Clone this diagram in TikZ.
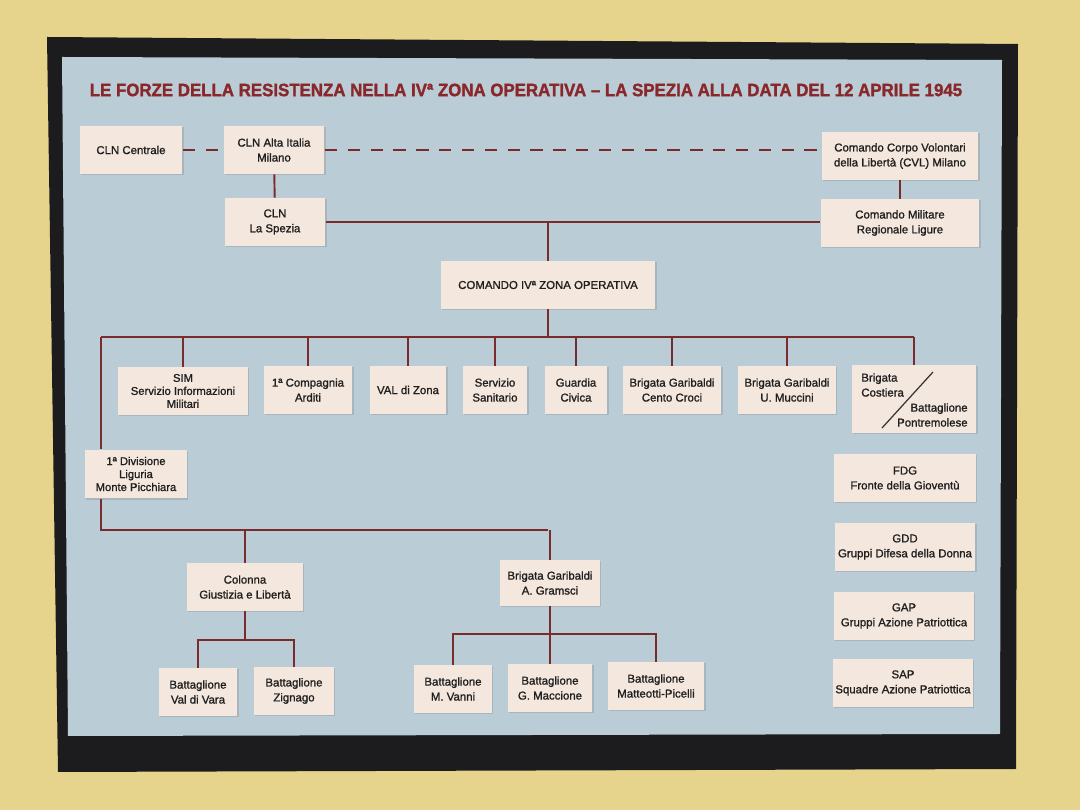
\documentclass[tikz,border=0pt]{standalone}
\usepackage{fontspec}
\setmainfont{Liberation Sans}
\newfontfamily\schedafont{Liberation Sans}[FakeBold=1.2]
\newfontfamily\titolofont{Liberation Sans}[BoldFeatures={FakeBold=1.6}]
\usetikzlibrary{shadows}

\definecolor{muro}{HTML}{E6D38C}
\definecolor{cornice}{HTML}{1C1C1E}
\definecolor{pannello}{HTML}{BACCD6}
\definecolor{scheda}{HTML}{F4E7DD}
\definecolor{rosso}{HTML}{7C2B2D}
\definecolor{titolorosso}{HTML}{8A272A}

\begin{document}
\begin{tikzpicture}[x=0.02cm, y=-0.02cm,
    every node/.style={align=center, text=black!88, font=\schedafont\fontsize{6.5}{8.5}\selectfont},
    box/.style={fill=scheda, inner sep=0pt, minimum height=0.96cm,
        drop shadow={opacity=0.3, shadow xshift=0.8pt, shadow yshift=-0.8pt}},
    fitto/.style={font=\schedafont\fontsize{6.4}{7.4}\selectfont},
    link/.style={draw=rosso, line width=1.1pt},
    dashlink/.style={link, dash pattern=on 7pt off 6pt}]
    \useasboundingbox (0,0) rectangle (1080,810);
    \fill[muro] (0,0) rectangle (1080,810);
    \fill[cornice] (47,37) -- (1018,44) -- (1016,769) -- (58,772) -- cycle;
    \fill[pannello] (62,57) -- (1002,60) -- (1000,734) -- (68,736) -- cycle;

    \node (titolo) at (526,90) {\color{titolorosso}\resizebox{17.45cm}{0.25cm}{\titolofont\bfseries
        LE FORZE DELLA RESISTENZA NELLA IVª ZONA OPERATIVA – LA SPEZIA ALLA DATA DEL 12 APRILE 1945}};

    % vertici
    \node[box, minimum width=2.06cm] (centrale) at (131,150) {CLN Centrale};
    \node[box, minimum width=2.02cm] (alta) at (274,150) {CLN Alta Italia\\Milano};
    \node[box, minimum width=3.14cm] (cvl) at (900,156) {Comando Corpo Volontari\\della Libertà (CVL) Milano};
    \node[box, minimum width=2.02cm] (spezia) at (275,222) {CLN\\La Spezia};
    \node[box, minimum width=3.18cm] (militare) at (900,223) {Comando Militare\\Regionale Ligure};
    \node[box, minimum width=4.3cm] (zona) at (548,285) {COMANDO IVª ZONA OPERATIVA};

    % reparti
    \node[box, fitto, minimum width=2.6cm] (sim) at (183,391) {SIM\\Servizio Informazioni\\Militari};
    \node[box, minimum width=1.78cm] (arditi) at (308,390) {1ª Compagnia\\Arditi};
    \node[box, minimum width=1.54cm] (val) at (408,390) {VAL di Zona};
    \node[box, minimum width=1.3cm] (sanitario) at (495,390) {Servizio\\Sanitario};
    \node[box, minimum width=1.26cm] (civica) at (576,390) {Guardia\\Civica};
    \node[box, minimum width=1.98cm] (centocroci) at (672,390) {Brigata Garibaldi\\Cento Croci};
    \node[box, minimum width=1.96cm] (muccini) at (787,390) {Brigata Garibaldi\\U. Muccini};
    \node[box, minimum width=2.5cm, minimum height=1.36cm] (costiera) at (914,399) {};
    \node[align=left, anchor=west, inner sep=0pt] (costA) at (861,385) {Brigata\\Costiera};
    \node[align=right, anchor=east, inner sep=0pt] (costB) at (968,415) {Battaglione\\Pontremolese};
    \draw[black!80, line width=0.7pt] (882,428) -- (933,372);

    \node[box, fitto, minimum width=2.04cm, minimum height=0.98cm] (divisione) at (136,474) {1ª Divisione\\Liguria\\Monte Picchiara};

    % organizzazioni
    \node[box, minimum width=2.84cm] (fdg) at (905,478) {FDG\\Fronte della Gioventù};
    \node[box, minimum width=2.82cm] (gdd) at (905,547) {GDD\\Gruppi Difesa della Donna};
    \node[box, minimum width=2.8cm] (gap) at (904,616) {GAP\\Gruppi Azione Patriottica};
    \node[box, minimum width=2.8cm] (sap) at (903,683) {SAP\\Squadre Azione Patriottica};

    % divisione
    \node[box, minimum width=2.32cm] (colonna) at (245,587) {Colonna\\Giustizia e Libertà};
    \node[box, minimum width=2cm, minimum height=0.92cm] (gramsci) at (550,583) {Brigata Garibaldi\\A. Gramsci};
    \node[box, minimum width=1.58cm] (valdivara) at (198,692) {Battaglione\\Val di Vara};
    \node[box, minimum width=1.6cm] (zignago) at (294,691) {Battaglione\\Zignago};
    \node[box, minimum width=1.56cm] (vanni) at (453,689) {Battaglione\\M. Vanni};
    \node[box, minimum width=1.7cm] (maccione) at (550,688) {Battaglione\\G. Maccione};
    \node[box, minimum width=1.94cm] (picelli) at (656,686) {Battaglione\\Matteotti-Picelli};

    % collegamenti
    \coordinate (busA) at (548,337);
    \coordinate (busB) at (548,530);
    \coordinate (busC) at (245,640);
    \coordinate (busD) at (550,634);
    \coordinate (sx) at (101,0);

    \draw[dashlink] (centrale) -- (alta);
    \draw[dashlink] (alta.east) -- (alta.east -| cvl.west);
    \draw[link] (alta) -- (spezia);
    \draw[link] (cvl) -- (militare);
    \draw[link] (spezia.east) -- (spezia.east -| militare.west);
    \draw[link] (zona.north) -- (zona.north |- spezia.east);
    \draw[link] (zona.south) -- (busA);
    \draw[link] (sx |- busA) -- (costiera.north |- busA);
    \foreach \n in {sim,arditi,val,sanitario,civica,centocroci,muccini,costiera}
        \draw[link] (\n.north) -- (\n.north |- busA);
    \draw[link] (sx |- busA) -- (sx |- divisione.north);
    \draw[link] (sx |- divisione.south) -- (sx |- busB) -- (busB);
    \draw[link] (colonna.north) -- (colonna.north |- busB);
    \draw[link] (gramsci.north) -- (gramsci.north |- busB);
    \draw[link] (colonna.south) -- (busC);
    \draw[link] (valdivara.north) |- (busC) -| (zignago.north);
    \draw[link] (gramsci.south) -- (maccione.north);
    \draw[link] (vanni.north) |- (busD) -| (picelli.north);
\end{tikzpicture}
\end{document}
